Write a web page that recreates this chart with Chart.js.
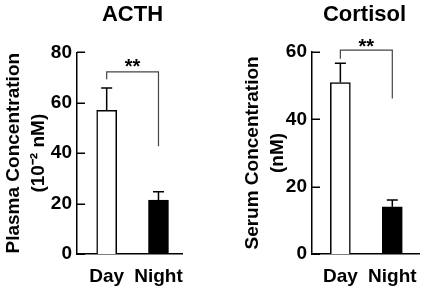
<!DOCTYPE html>
<html>
<head>
<meta charset="utf-8">
<script src="https://cdn.jsdelivr.net/npm/chart.js@4.4.1/dist/chart.umd.min.js"></script>
<style>
  html, body { margin: 0; padding: 0; background: #fff; }
  #wrap { position: relative; width: 424px; height: 291px; overflow: hidden; }
  #wrap canvas { position: absolute; top: 0; }
</style>
</head>
<body>
<div id="wrap">
  <canvas id="acthChart" width="265" height="291" style="left:0px"></canvas>
  <canvas id="cortChart" width="253" height="291" style="left:238px"></canvas>
</div>
<script>
// Data
const categories = ['Day', 'Night'];
const acthMeans = [57, 21.4];
const acthSem = [8.9, 3.3];
const cortMeans = [50.9, 14];
const cortSem = [5.7, 2];
const barColors = ['#ffffff', '#000000'];
// significance bracket: [bracket level, left foot, right foot] in axis units
const acthBracket = [72.3, 69.3, 42.8];
const cortBracket = [60.5, 58, 46.2];
const acthStarAt = 76;
const cortStarAt = 63;
const sigLabel = '**';

const FONT = '"Liberation Sans", Arial, Helvetica, sans-serif';

// error bars (upper only, with cap)
const errorBars = {
    id: 'errorBars',
    afterDatasetsDraw(chart) {
        const ctx = chart.ctx;
        const yScale = chart.scales.y;
        chart.data.datasets.forEach(function (ds, di) {
            chart.getDatasetMeta(di).data.forEach(function (bar, i) {
                const top = yScale.getPixelForValue(ds.data[i].y + ds.errors[i]);
                ctx.save();
                ctx.strokeStyle = '#000';
                ctx.lineWidth = 1.5;
                ctx.beginPath();
                ctx.moveTo(bar.x, bar.y);
                ctx.lineTo(bar.x, top);
                ctx.moveTo(bar.x - 5.5, top);
                ctx.lineTo(bar.x + 5.5, top);
                ctx.stroke();
                ctx.restore();
            });
        });
    }
};

// y ticks pointing into the plot
const inwardTicks = {
    id: 'inwardTicks',
    afterDraw(chart) {
        const ctx = chart.ctx;
        const y = chart.scales.y;
        const x0 = chart.chartArea.left;
        ctx.save();
        ctx.strokeStyle = '#000';
        ctx.lineWidth = 1.5;
        y.ticks.forEach(function (t) {
            const py = Math.round(y.getPixelForValue(t.value)) + 0.25;
            ctx.beginPath();
            ctx.moveTo(x0, py);
            ctx.lineTo(x0 + 8, py);
            ctx.stroke();
        });
        ctx.restore();
    }
};

// significance bracket with label
const sigBracket = {
    id: 'sigBracket',
    afterDatasetsDraw(chart, args, opts) {
        const ctx = chart.ctx;
        const xs = chart.scales.x, ys = chart.scales.y;
        const xl = xs.getPixelForValue(0), xr = xs.getPixelForValue(1);
        const yt = ys.getPixelForValue(opts.levels[0]);
        ctx.save();
        ctx.strokeStyle = '#444';
        ctx.lineWidth = 1.2;
        ctx.beginPath();
        ctx.moveTo(xl, ys.getPixelForValue(opts.levels[1]));
        ctx.lineTo(xl, yt);
        ctx.lineTo(xr, yt);
        ctx.lineTo(xr, ys.getPixelForValue(opts.levels[2]));
        ctx.stroke();
        ctx.fillStyle = '#000';
        ctx.font = 'bold 20px ' + FONT;
        ctx.textAlign = 'center';
        ctx.textBaseline = 'alphabetic';
        ctx.fillText(opts.label, (xl + xr) / 2, ys.getPixelForValue(opts.labelAt) + 11);
        ctx.restore();
    }
};

function makeChart(id, s) {
    const tickFont = { family: FONT, size: 19, weight: 'bold' };
    return new Chart(document.getElementById(id), {
        type: 'bar',
        data: {
            datasets: [{
                data: s.means.map(function (v, i) { return { x: i, y: v }; }),
                errors: s.sem,
                backgroundColor: barColors,
                borderColor: '#000',
                borderWidth: 1.5,
                barThickness: 20
            }]
        },
        options: {
            responsive: false,
            animation: false,
            layout: { padding: 0 },
            plugins: {
                legend: { display: false },
                tooltip: { enabled: false },
                title: {
                    display: true,
                    text: s.title,
                    color: '#000',
                    font: { family: FONT, size: 22, weight: 'bold', lineHeight: 1.2 },
                    padding: { top: 2, bottom: s.titleGap }
                },
                sigBracket: { levels: s.bracket, label: sigLabel, labelAt: s.starAt }
            },
            scales: {
                x: {
                    type: 'linear',
                    offset: false,
                    min: s.xMin,
                    max: s.xMax,
                    grid: { display: false, drawTicks: false },
                    border: { color: '#000', width: 1.5 },
                    afterBuildTicks: function (sc) {
                        sc.ticks = categories.map(function (c, i) { return { value: i }; });
                    },
                    afterFit: function (sc) { sc.height = 37; },
                    ticks: {
                        callback: function (v) { return categories[v]; },
                        color: '#000',
                        font: tickFont,
                        padding: 11,
                        maxRotation: 0,
                        autoSkip: false
                    }
                },
                y: {
                    min: 0,
                    max: s.yMax,
                    grid: { display: false, drawTicks: false },
                    border: { color: '#000', width: 1.5 },
                    afterFit: function (sc) { sc.width = s.yWidth; },
                    ticks: { stepSize: 20, color: '#000', font: tickFont, padding: 5 },
                    title: {
                        display: true,
                        text: s.yTitle,
                        color: '#000',
                        font: { family: FONT, size: 19, weight: 'bold', lineHeight: 25 / 19 },
                        padding: { top: s.yTitlePad, bottom: 0 }
                    }
                },
                // empty right margin so the title stays centred on the whole panel
                spacer: {
                    position: 'right',
                    grid: { display: false, drawTicks: false },
                    border: { display: false },
                    ticks: { display: false },
                    afterFit: function (sc) { sc.width = s.padRight; }
                }
            }
        },
        plugins: [errorBars, inwardTicks, sigBracket]
    });
}

makeChart('acthChart', {
    title: 'ACTH',
    yTitle: ['Plasma Concentration', '(10\u207B\u00B2 nM)'],
    means: acthMeans, sem: acthSem, yMax: 80,
    bracket: acthBracket, starAt: acthStarAt,
    xMin: -0.573, xMax: 1.454,
    padRight: 83, titleGap: 24, yWidth: 77, yTitlePad: 1
});

makeChart('cortChart', {
    title: 'Cortisol',
    yTitle: ['Serum Concentration', '(nM)'],
    means: cortMeans, sem: cortSem, yMax: 60,
    bracket: cortBracket, starAt: cortStarAt,
    xMin: -0.546, xMax: 1.514,
    padRight: 72, titleGap: 23.5, yWidth: 74, yTitlePad: 2.5
});
</script>
</body>
</html>
